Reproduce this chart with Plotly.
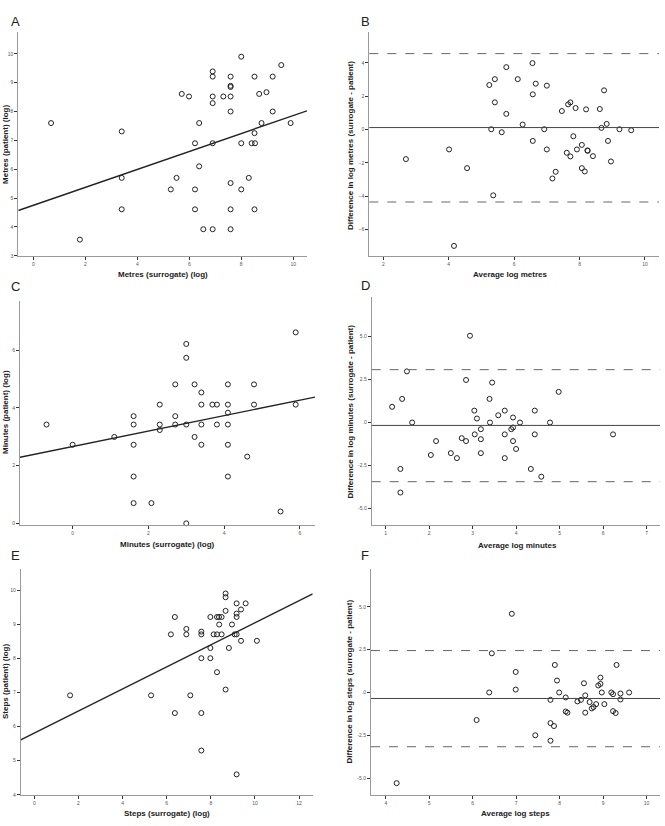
import plotly.graph_objects as go

W, H = 665, 826

# ---------------- Data ----------------
# Panel A: Metres (surrogate) vs Metres (patient), log
a_x = [0.68, 1.79, 3.40, 3.40, 3.40, 5.29, 5.51, 5.71, 5.99, 6.22, 6.22, 6.22, 6.38, 6.38, 6.54,
       6.90, 6.90, 6.90, 6.90, 6.90, 6.90, 7.31, 7.59, 7.59, 7.59, 7.59, 7.59, 7.59, 7.59, 7.59,
       8.00, 8.00, 8.00, 8.29, 8.40, 8.53, 8.51, 8.51, 8.51, 8.69, 8.78, 8.97, 9.21, 9.21, 9.54, 9.90]
a_y = [7.60, 3.56, 7.31, 5.70, 4.61, 5.30, 5.70, 8.61, 8.52, 5.30, 4.61, 6.90, 7.60, 6.10, 3.92,
       9.39, 9.21, 8.52, 8.29, 6.90, 3.92, 8.52, 9.21, 8.89, 8.85, 8.52, 8.00, 5.52, 4.61, 3.92,
       9.90, 6.90, 5.30, 5.70, 6.90, 6.90, 9.21, 7.25, 4.61, 8.61, 7.60, 8.67, 9.21, 8.00, 9.61, 7.60]
a_intercept, a_slope = 4.75, 0.311

# Panel B: Bland-Altman metres
b_x = [2.69, 4.01, 4.16, 4.56, 5.24, 5.30, 5.36, 5.41, 5.41, 5.62, 5.76, 5.76, 6.11, 6.26, 6.56,
       6.57, 6.57, 6.66, 6.92, 7.00, 7.00, 7.17, 7.27, 7.46, 7.61, 7.65, 7.72, 7.72, 7.81, 7.88,
       7.92, 8.07, 8.07, 8.16, 8.20, 8.24, 8.25, 8.41, 8.62, 8.67, 8.75, 8.83, 8.87, 8.96, 9.22, 9.58]
b_y = [-1.77, -1.19, -6.97, -2.31, 2.67, 0.02, -3.94, 3.02, 1.63, -0.16, 3.74, 0.94, 3.02, 0.30, 3.98,
       2.11, -0.68, 2.75, 0.02, 2.63, -1.19, -2.93, -2.53, 1.11, -1.39, 1.51, 1.63, -1.61, -0.40, 1.29,
       -1.19, -0.92, -2.31, -2.51, 1.21, -1.25, -1.27, -1.59, 1.23, 0.10, 2.35, 0.34, -0.68, -1.91, 0.02, -0.04]
b_mean, b_upper, b_lower = 0.12, 4.55, -4.34

# Panel C: Minutes (surrogate) vs Minutes (patient), log
c_x = [-0.69, 0.00, 1.10, 1.61, 1.61, 1.61, 1.61, 1.61, 2.08, 2.30, 2.30, 2.30, 2.71, 2.71, 2.71,
       3.00, 3.00, 3.00, 3.00, 3.22, 3.22, 3.40, 3.40, 3.40, 3.40, 3.69, 3.81, 3.81, 4.10, 4.10,
       4.10, 4.10, 4.10, 4.10, 4.61, 4.79, 4.79, 5.49, 5.89, 5.89]
c_y = [3.42, 2.72, 2.99, 3.71, 3.42, 2.72, 1.62, 0.70, 0.70, 4.11, 3.42, 3.23, 4.81, 3.71, 3.42,
       6.21, 5.73, 3.42, 0.00, 4.81, 2.99, 4.53, 4.11, 3.42, 2.72, 4.11, 4.11, 3.42, 4.81, 4.11,
       3.83, 3.42, 2.72, 1.62, 2.31, 4.81, 4.11, 0.41, 6.61, 4.11]
c_intercept, c_slope = 2.66, 0.267

# Panel D: Bland-Altman minutes
d_x = [1.15, 1.34, 1.34, 1.38, 1.49, 1.61, 2.04, 2.16, 2.50, 2.64, 2.75, 2.85, 2.85, 2.94, 3.04,
       3.05, 3.10, 3.19, 3.19, 3.19, 3.39, 3.40, 3.45, 3.59, 3.74, 3.74, 3.74, 3.89, 3.93, 3.93,
       3.93, 4.00, 4.09, 4.34, 4.43, 4.43, 4.58, 4.78, 4.98, 6.23]
d_y = [0.91, -2.70, -4.07, 1.37, 2.97, 0.00, -1.89, -1.08, -1.78, -2.07, -0.91, -1.08, 2.47, 5.04, 0.69,
       -0.69, 0.23, -0.39, -0.97, -1.78, 1.37, 0.00, 2.32, 0.42, 0.69, -0.69, -2.07, -0.39, -0.29, 0.29,
       -1.08, -1.54, 0.00, -2.70, 0.69, -0.69, -3.15, 0.00, 1.78, -0.69]
d_mean, d_upper, d_lower = -0.17, 3.07, -3.44

# Panel E: Steps (surrogate) vs Steps (patient), log
e_x = [1.62, 5.29, 6.19, 6.37, 6.37, 6.89, 6.89, 7.07, 7.57, 7.57, 7.57, 7.57, 7.57, 7.98, 7.98,
       7.98, 8.13, 8.28, 8.28, 8.28, 8.37, 8.38, 8.49, 8.49, 8.67, 8.67, 8.67, 8.67, 8.82, 8.96,
       9.08, 9.17, 9.17, 9.17, 9.17, 9.17, 9.37, 9.37, 9.58, 10.09]
e_y = [6.92, 6.92, 8.71, 9.22, 6.40, 8.87, 8.71, 6.92, 8.79, 8.71, 8.01, 6.40, 5.30, 9.22, 8.31,
       8.01, 8.71, 9.22, 8.71, 7.60, 9.22, 9.00, 9.22, 8.71, 9.91, 9.80, 9.40, 7.09, 8.31, 9.00,
       8.71, 9.62, 9.32, 9.22, 8.71, 4.60, 9.44, 8.52, 9.62, 8.52]
e_intercept, e_slope = 5.81, 0.324

# Panel F: Bland-Altman steps
f_x = [4.25, 6.09, 6.38, 6.44, 6.90, 6.99, 6.99, 7.44, 7.79, 7.79, 7.79, 7.87, 7.89, 7.94, 7.99,
       8.14, 8.14, 8.18, 8.41, 8.49, 8.56, 8.59, 8.59, 8.69, 8.74, 8.78, 8.84, 8.89, 8.94, 8.94,
       8.97, 9.03, 9.19, 9.23, 9.23, 9.29, 9.31, 9.40, 9.40, 9.60]
f_y = [-5.30, -1.61, 0.00, 2.29, 4.60, 1.20, 0.17, -2.50, -0.43, -1.79, -2.82, -1.96, 1.61, 0.70, 0.00,
       -0.29, -1.11, -1.18, -0.52, -0.43, 0.54, -0.17, -1.18, -0.56, -0.93, -0.85, -0.68, 0.41, 0.87, 0.50,
       0.00, -0.68, 0.00, -0.10, -1.09, -1.20, 1.61, -0.06, -0.41, 0.00]
f_mean, f_upper, f_lower = -0.35, 2.45, -3.17

# Tick values / labels
a_xticks = [0, 2, 4, 6, 8, 10]
a_yticks = [3, 4, 5, 6, 7, 8, 9, 10]
b_xticks = [2, 4, 6, 8, 10]
b_yticks = [-6, -4, -2, 0, 2, 4]
c_xticks = [0, 2, 4, 6]
c_yticks = [0, 2, 4, 6]
d_xticks = [1, 2, 3, 4, 5, 6, 7]
d_yticks = [-5.0, -2.5, 0.0, 2.5, 5.0]
d_yticklabels = ["-5.0", "-2.5", ".0", "2.5", "5.0"]
e_xticks = [0, 2, 4, 6, 8, 10, 12]
e_yticks = [4, 5, 6, 7, 8, 9, 10]
f_xticks = [4, 5, 6, 7, 8, 9, 10]
f_yticks = [-5.0, -2.5, 0.0, 2.5, 5.0]
f_yticklabels = ["-5.0", "-2.5", ".0", "2.5", "5.0"]

# ---------------- Layout helpers ----------------
def px_x(p):
    return p / W

def px_y(p):
    return 1 - p / H

panels = {
    # name: (axis suffix, left px, right px, top px, bottom px, xrange, yrange)
    "A": ("", 18.3, 307, 32, 256.7, [-0.58, 10.53], [3.0, 10.76]),
    "B": ("2", 369.3, 659, 31.7, 256.7, [1.57, 10.43], [-7.56, 5.87]),
    "C": ("3", 20, 315, 301.7, 526.7, [-1.39, 6.4], [-0.05, 7.71]),
    "D": ("4", 371.7, 660, 298.3, 527.3, [0.68, 7.31], [-5.98, 7.28]),
    "E": ("5", 20.7, 312.7, 570.7, 797.7, [-0.62, 12.62], [4.0, 10.64]),
    "F": ("6", 371, 660, 570.7, 797.7, [3.66, 10.31], [-5.98, 7.24]),
}

FONT = "Liberation Sans, Arial, sans-serif"
marker = dict(symbol="circle-open", size=5, color="#222", line=dict(width=1, color="#222"))

fig = go.Figure()

def scatter(name, xs, ys):
    s = panels[name][0]
    fig.add_trace(go.Scatter(x=xs, y=ys, mode="markers", marker=marker,
                             xaxis="x" + s, yaxis="y" + s, showlegend=False, cliponaxis=False))

def regline(name, b0, b1):
    s = panels[name][0]
    xr = panels[name][5]
    fig.add_trace(go.Scatter(x=xr, y=[b0 + b1 * xr[0], b0 + b1 * xr[1]], mode="lines",
                             line=dict(color="#222", width=1.4),
                             xaxis="x" + s, yaxis="y" + s, showlegend=False))

def ba_lines(name, mean, upper, lower):
    s = panels[name][0]
    xref = ("x" + s) + " domain"
    yref = "y" + s
    fig.add_shape(type="line", xref=xref, yref=yref, x0=0, x1=1, y0=mean, y1=mean,
                  line=dict(color="#444", width=1))
    for v in (upper, lower):
        fig.add_shape(type="line", xref=xref, yref=yref, x0=0, x1=1, y0=v, y1=v,
                      line=dict(color="#666", width=1, dash="dash"))

scatter("A", a_x, a_y); regline("A", a_intercept, a_slope)
scatter("B", b_x, b_y); ba_lines("B", b_mean, b_upper, b_lower)
scatter("C", c_x, c_y); regline("C", c_intercept, c_slope)
scatter("D", d_x, d_y); ba_lines("D", d_mean, d_upper, d_lower)
scatter("E", e_x, e_y); regline("E", e_intercept, e_slope)
scatter("F", f_x, f_y); ba_lines("F", f_mean, f_upper, f_lower)

ticks = {
    "A": (a_xticks, None, a_yticks, None),
    "B": (b_xticks, None, b_yticks, None),
    "C": (c_xticks, None, c_yticks, None),
    "D": (d_xticks, None, d_yticks, d_yticklabels),
    "E": (e_xticks, None, e_yticks, None),
    "F": (f_xticks, None, f_yticks, f_yticklabels),
}

axis_common = dict(showline=True, linecolor="#9a9a9a", linewidth=1, ticks="outside",
                   ticklen=3, tickwidth=1, tickcolor="#333", showgrid=False, zeroline=False,
                   tickfont=dict(size=5, color="#555", family=FONT))

layout_axes = {}
for name, (s, l, r, t, b, xr, yr) in panels.items():
    xt, xtl, yt, ytl = ticks[name]
    xa = dict(axis_common, domain=[px_x(l), px_x(r)], range=xr, anchor="y" + s,
              tickvals=xt)
    ya = dict(axis_common, domain=[px_y(b), px_y(t)], range=yr, anchor="x" + s,
              tickvals=yt)
    if xtl:
        xa["ticktext"] = xtl
    if ytl:
        ya["ticktext"] = ytl
    layout_axes["xaxis" + s] = xa
    layout_axes["yaxis" + s] = ya

annotations = []
def ann(text, x, y, size=8, bold=True, angle=0, color="#222"):
    annotations.append(dict(text=("<b>%s</b>" % text) if bold else text,
                            x=px_x(x), y=px_y(y), xref="paper", yref="paper",
                            showarrow=False, textangle=angle, xanchor="center", yanchor="middle",
                            font=dict(size=size, family=FONT, color=color)))

# panel letters
for letter, (lx, ly) in {"A": (15, 22), "B": (365, 22), "C": (15, 288),
                          "D": (365, 287), "E": (15, 558), "F": (365, 558)}.items():
    ann(letter, lx, ly, size=13, bold=False, color="#222")

# axis titles
ann("Metres (surrogate) (log)", 163, 276)
ann("Metres (patient) (log)", 5.5, 145, angle=-90)
ann("Average log metres", 511, 276)
ann("Difference in log metres (surrogate - patient)", 350.5, 146, angle=-90)
ann("Minutes (surrogate) (log)", 167, 546.5)
ann("Minutes (patient) (log)", 5.5, 414, angle=-90)
ann("Average log minutes", 517, 547)
ann("Difference in log minutes (surrogate - patient)", 350, 413, angle=-90)
ann("Steps (surrogate) (log)", 167, 816.5)
ann("Steps (patient) (log)", 5.5, 684, angle=-90)
ann("Average log steps", 515, 816.5)
ann("Difference in log steps (surrogate - patient)", 350, 684, angle=-90)

fig.update_layout(width=W, height=H, margin=dict(l=0, r=0, t=0, b=0),
                  paper_bgcolor="white", plot_bgcolor="white",
                  showlegend=False, annotations=annotations, **layout_axes)

fig.write_html("out.html")
